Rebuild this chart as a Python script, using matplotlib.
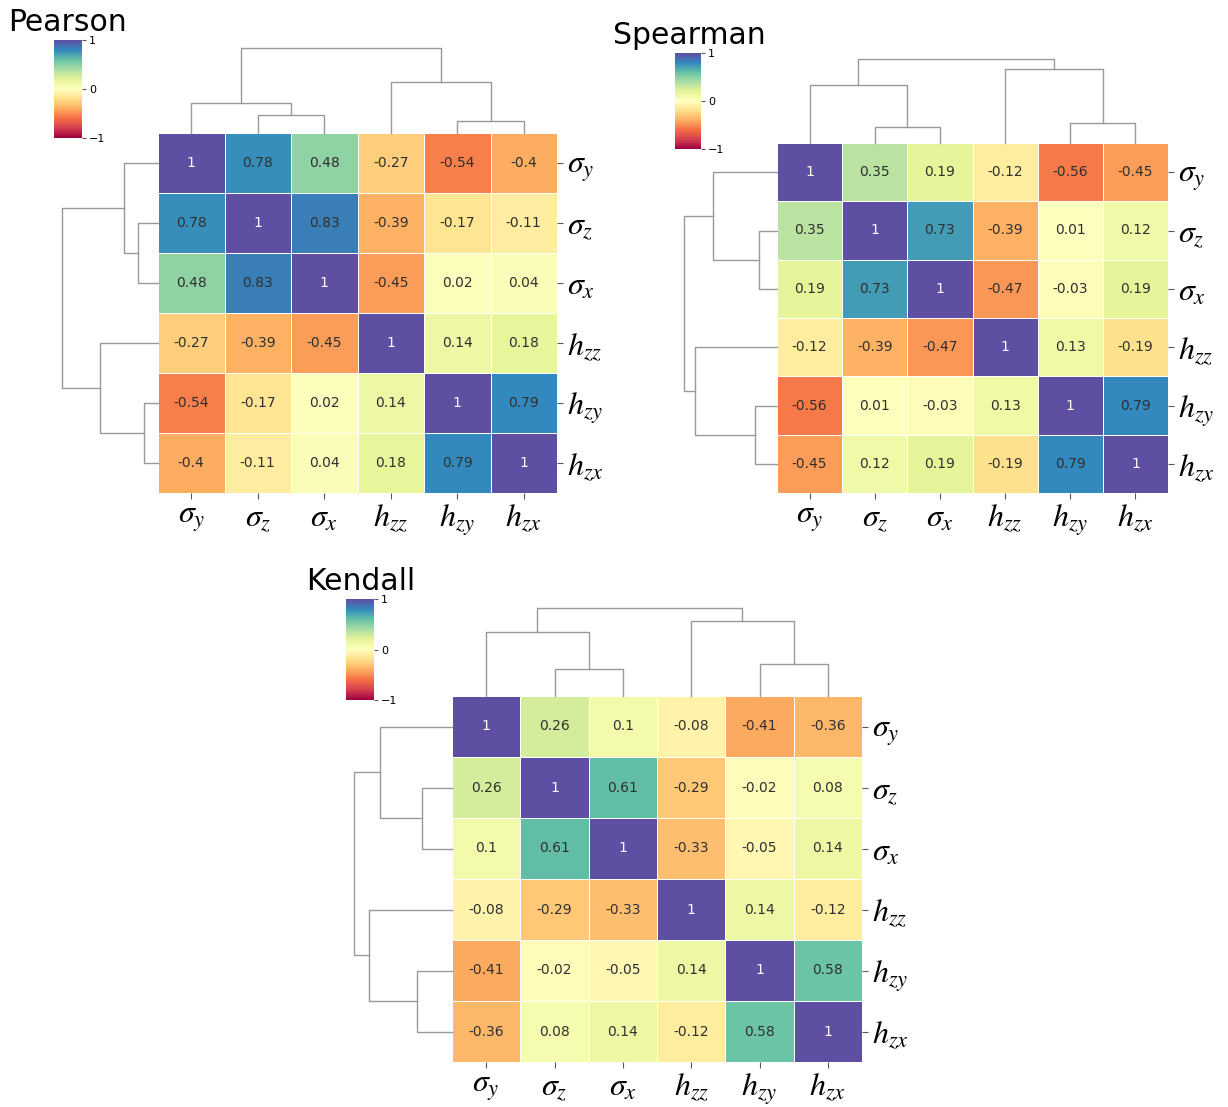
import matplotlib
matplotlib.use("Agg")
import matplotlib.pyplot as plt
import numpy as np

plt.rcParams['mathtext.fontset'] = 'stix'

labels = [r'$\sigma_y$', r'$\sigma_z$', r'$\sigma_x$', r'$h_{zz}$', r'$h_{zy}$', r'$h_{zx}$']

pearson = [
    [1, 0.78, 0.48, -0.27, -0.54, -0.4],
    [0.78, 1, 0.83, -0.39, -0.17, -0.11],
    [0.48, 0.83, 1, -0.45, 0.02, 0.04],
    [-0.27, -0.39, -0.45, 1, 0.14, 0.18],
    [-0.54, -0.17, 0.02, 0.14, 1, 0.79],
    [-0.4, -0.11, 0.04, 0.18, 0.79, 1],
]
spearman = [
    [1, 0.35, 0.19, -0.12, -0.56, -0.45],
    [0.35, 1, 0.73, -0.39, 0.01, 0.12],
    [0.19, 0.73, 1, -0.47, -0.03, 0.19],
    [-0.12, -0.39, -0.47, 1, 0.13, -0.19],
    [-0.56, 0.01, -0.03, 0.13, 1, 0.79],
    [-0.45, 0.12, 0.19, -0.19, 0.79, 1],
]
kendall = [
    [1, 0.26, 0.1, -0.08, -0.41, -0.36],
    [0.26, 1, 0.61, -0.29, -0.02, 0.08],
    [0.1, 0.61, 1, -0.33, -0.05, 0.14],
    [-0.08, -0.29, -0.33, 1, 0.14, -0.12],
    [-0.41, -0.02, -0.05, 0.14, 1, 0.58],
    [-0.36, 0.08, 0.14, -0.12, 0.58, 1],
]

# linkage rows: child a, child b, merge height (relative to root)
pearson_link = [[1, 2, 0.21], [4, 5, 0.146], [0, 6, 0.354], [3, 7, 0.60], [8, 9, 1.0]]
spearman_link = [[1, 2, 0.196], [4, 5, 0.24], [0, 6, 0.686], [3, 7, 0.886], [8, 9, 1.0]]
kendall_link = [[1, 2, 0.31], [4, 5, 0.36], [0, 6, 0.73], [3, 7, 0.85], [8, 9, 1.0]]

W, H = 1228, 1107
fig = plt.figure(figsize=(W / 100, H / 100), dpi=100)


def box(l, t, r, b):
    return [l / W, 1 - b / H, (r - l) / W, (b - t) / H]


def dendro(ax, link, n, orient):
    pos = {i: i + 0.5 for i in range(n)}
    hgt = {i: 0.0 for i in range(n)}
    for k, (a, b, h) in enumerate(link):
        xs = [pos[a], pos[a], pos[b], pos[b]]
        ys = [hgt[a], h, h, hgt[b]]
        if orient == 'top':
            ax.plot(xs, ys, color='0.6', lw=1.0, clip_on=False)
        else:
            ax.plot(ys, xs, color='0.6', lw=1.0, clip_on=False)
        pos[n + k] = (pos[a] + pos[b]) / 2
        hgt[n + k] = h
    if orient == 'top':
        ax.set_xlim(0, n)
        ax.set_ylim(0, 1)
    else:
        ax.set_ylim(n, 0)
        ax.set_xlim(1, 0)
    ax.axis('off')


def clustermap(data, link, title, heat, top, left, cbox, tpos):
    data = np.array(data)
    n = len(data)
    ax = fig.add_axes(box(*heat))
    mesh = ax.pcolormesh(data, cmap='Spectral', vmin=-1, vmax=1,
                         edgecolors='white', linewidth=0.7)
    ax.set_xlim(0, n)
    ax.set_ylim(n, 0)
    cmap = plt.get_cmap('Spectral')
    for i in range(n):
        for j in range(n):
            v = data[i, j]
            r, g, b, _ = cmap((v + 1) / 2)
            lum = 0.2126 * r + 0.7152 * g + 0.0722 * b
            ax.text(j + 0.5, i + 0.5, format(v, '.2g'), ha='center', va='center',
                    fontsize=10, color='#303030' if lum > 0.408 else 'white')
    ax.set_xticks(np.arange(n) + 0.5)
    ax.set_xticklabels(labels, fontsize=23)
    ax.set_yticks(np.arange(n) + 0.5)
    ax.set_yticklabels(labels, fontsize=23)
    ax.yaxis.tick_right()
    ax.tick_params(length=4, color='0.35', pad=3)
    for s in ax.spines.values():
        s.set_visible(False)

    dendro(fig.add_axes(box(*top)), link, n, 'top')
    dendro(fig.add_axes(box(*left)), link, n, 'left')

    cax = fig.add_axes(box(*cbox))
    cb = fig.colorbar(mesh, cax=cax, ticks=[-1, 0, 1])
    cb.outline.set_visible(False)
    cax.tick_params(labelsize=8, length=3, color='0.35', pad=2)

    fig.text(tpos[0] / W, 1 - tpos[1] / H, title, fontsize=21.5, va='baseline', ha='left')


clustermap(pearson, pearson_link, 'Pearson',
           (158, 133, 557, 493), (158, 48, 557, 133), (62, 133, 158, 493),
           (54, 40, 82, 138), (8, 31))
clustermap(spearman, spearman_link, 'Spearman',
           (777, 143, 1168, 493), (777, 59, 1168, 143), (684, 143, 777, 493),
           (675, 53, 701, 149), (613, 44))
clustermap(kendall, kendall_link, 'Kendall',
           (452, 696, 862, 1062), (452, 608, 862, 696), (354, 696, 452, 1062),
           (346, 599, 374, 700), (306, 590))

fig.savefig('out.png', dpi=100)
